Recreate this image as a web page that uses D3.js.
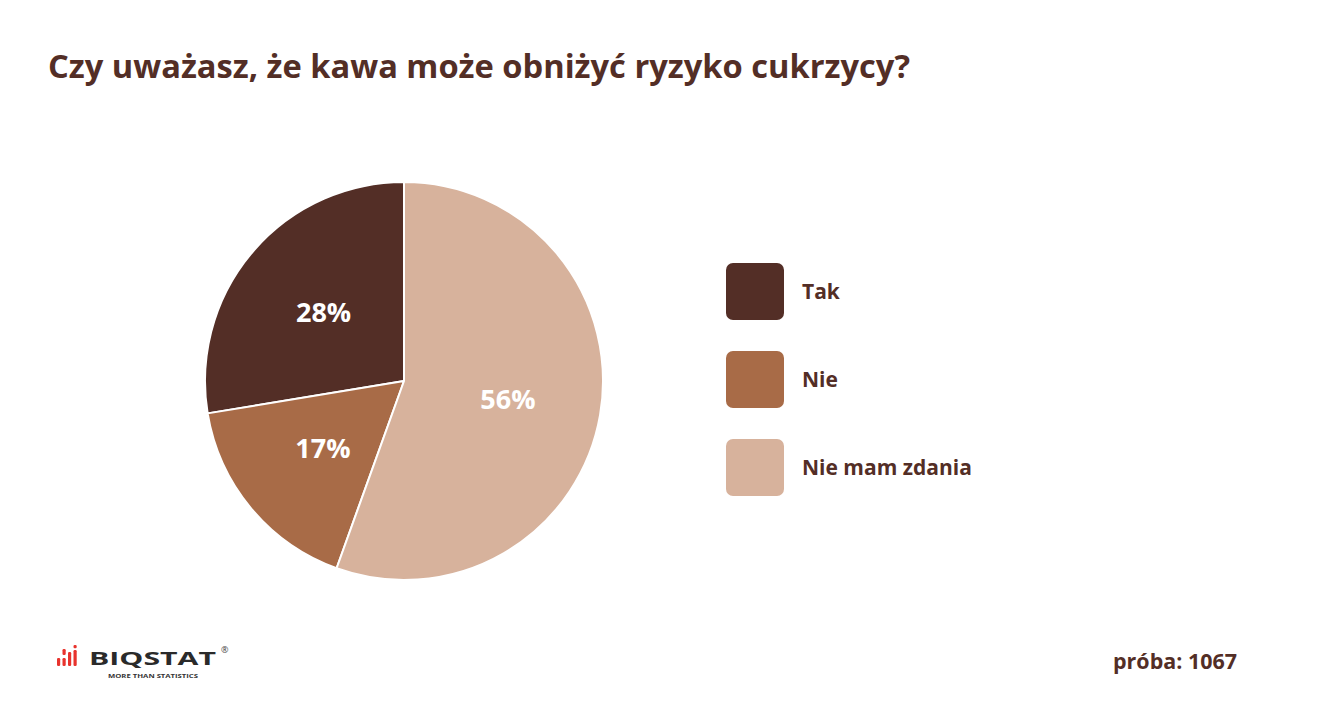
<!DOCTYPE html>
<html><head><meta charset="utf-8">
<script src="https://cdn.jsdelivr.net/npm/d3@7"></script>
<style>
html,body{margin:0;padding:0;background:#fff;}
svg text{font-family:"Open Sans","Noto Sans",sans-serif;}
</style></head>
<body><svg id="chart" width="1330" height="724"></svg>
<script>
const title = "Czy uważasz, że kawa może obniżyć ryzyko cukrzycy?";
const categories = ["Tak", "Nie", "Nie mam zdania"];
const values = [27.6, 16.9, 55.5];
const colors = ["#532e26", "#a86b47", "#d7b29c"];
const sampleLabel = "próba: 1067";
const textColor = "#532e26";

const svg = d3.select("#chart");
svg.append("rect").attr("width",1330).attr("height",724).attr("fill","#fff");

// title
svg.append("text").attr("x",48).attr("y",78)
  .attr("fill",textColor).attr("font-size",32).attr("font-weight",700)
  .attr("textLength",862).attr("lengthAdjust","spacingAndGlyphs")
  .text(title);

// pie
const cx = 404, cy = 381, R = 199;
const color = d3.scaleOrdinal().domain(categories).range(colors);
const data = categories.map((c,i)=>({cat:c, value:values[i]}));
const pie = d3.pie().value(d=>d.value).sort(null).startAngle(0).endAngle(-2*Math.PI);
const arcs = pie(data);
const arc = d3.arc().innerRadius(0).outerRadius(R);
const labelArc = d3.arc().innerRadius(R*0.53).outerRadius(R*0.53);
const g = svg.append("g").attr("transform",`translate(${cx},${cy})`);
g.selectAll("path").data(arcs).join("path")
  .attr("d",arc).attr("fill",d=>color(d.data.cat))
  .attr("stroke","#fff").attr("stroke-width",2).attr("stroke-linejoin","round");
g.selectAll("text").data(arcs).join("text")
  .attr("transform",d=>`translate(${labelArc.centroid(d)})`)
  .attr("text-anchor","middle").attr("dy","0.36em")
  .attr("fill","#fff").attr("font-size",27).attr("font-weight",700)
  .text(d=>Math.round(d.data.value)+"%");

// legend
const ly = d3.scaleBand().domain(categories).range([263, 527]).paddingInner(0);
const items = svg.append("g").selectAll("g").data(categories).join("g")
  .attr("transform",d=>`translate(726,${ly(d)})`);
items.append("rect").attr("width",58).attr("height",57).attr("rx",7)
  .attr("fill",d=>color(d));
items.append("text").attr("x",76).attr("y",29).attr("dy","0.35em")
  .attr("fill",textColor).attr("font-size",21).attr("font-weight",700)
  .text(d=>d);

// sample
svg.append("text").attr("x",1237).attr("y",669).attr("text-anchor","end")
  .attr("fill",textColor).attr("font-size",21).attr("font-weight",700)
  .attr("textLength",124).attr("lengthAdjust","spacingAndGlyphs")
  .text(sampleLabel);

// logo
const logo = svg.append("g").attr("transform","translate(57,645)");
const red = "#e8332d";
[[0,13,8],[5.5,4,6],[5.5,13,8],[11,7,14],[16.5,5,16]].forEach(b=>{
  logo.append("rect").attr("x",b[0]).attr("y",b[1]).attr("width",3.2).attr("height",b[2])
    .attr("rx",1.2).attr("fill",red);
});
logo.append("rect").attr("x",16.5).attr("y",0).attr("width",3.2).attr("height",3.2)
  .attr("rx",1.2).attr("fill",red);
logo.append("text").attr("x",32).attr("y",20).attr("fill","#2a2a2a")
  .attr("font-size",18).attr("font-weight",700)
  .attr("font-family","DejaVu Sans, sans-serif")
  .attr("textLength",127).attr("lengthAdjust","spacingAndGlyphs")
  .text("BIQSTAT");
logo.append("text").attr("x",51).attr("y",33).attr("fill","#333")
  .attr("font-size",5.5).attr("font-weight",700)
  .attr("font-family","DejaVu Sans, sans-serif")
  .attr("textLength",90).attr("lengthAdjust","spacingAndGlyphs")
  .text("MORE THAN STATISTICS");
logo.append("text").attr("x",164).attr("y",8).attr("fill","#444")
  .attr("font-size",9).text("®");
</script></body></html>
